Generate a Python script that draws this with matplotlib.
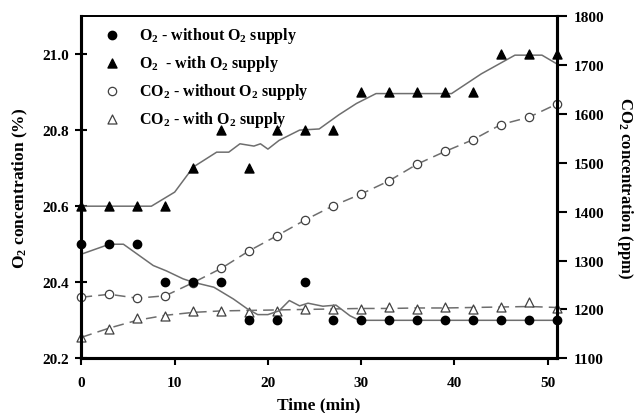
#!/usr/bin/env python3

# O2 / CO2 concentration over time, with and without O2 supply.

import matplotlib
matplotlib.use("Agg")
from matplotlib import pyplot as plt

plt.rcParams["font.family"] = ["Liberation Serif", "DejaVu Serif"]
plt.rcParams["font.weight"] = "bold"
plt.rcParams["mathtext.fontset"] = "custom"
plt.rcParams["mathtext.rm"] = "Liberation Serif:bold"
plt.rcParams["mathtext.default"] = "rm"

# sampling times (min)
time = [0, 3, 6, 9, 12, 15, 18, 21, 24, 27, 30, 33, 36, 39, 42, 45, 48, 51]

# measured points
o2_without = [20.5, 20.5, 20.5, 20.4, 20.4, 20.4, 20.3, 20.3, 20.4, 20.3,
              20.3, 20.3, 20.3, 20.3, 20.3, 20.3, 20.3, 20.3]
o2_with = [20.6, 20.6, 20.6, 20.6, 20.7, 20.8, 20.7, 20.8, 20.8, 20.8,
           20.9, 20.9, 20.9, 20.9, 20.9, 21.0, 21.0, 21.0]
co2_without = [1225, 1231, 1223, 1228, 1255, 1284, 1320, 1351, 1383, 1412,
               1436, 1463, 1497, 1523, 1547, 1578, 1593, 1620]
co2_with = [1143, 1160, 1182, 1187, 1197, 1197, 1195, 1197, 1201, 1201,
            1201, 1204, 1201, 1204, 1201, 1205, 1215, 1203]

# smoothed trend lines
o2_without_fit_t = [0, 3, 4.5, 7.7, 9.1, 10.9, 12, 14.2, 16.3, 17.8, 18.9, 20,
                    21.2, 22.3, 23.4, 24.3, 25.9, 27.3, 28.8, 29.8, 51]
o2_without_fit = [20.474, 20.5, 20.5, 20.444, 20.43, 20.409, 20.40, 20.387,
                  20.356, 20.33, 20.315, 20.315, 20.325, 20.352, 20.338,
                  20.345, 20.337, 20.34, 20.312, 20.30, 20.30]
o2_with_fit_t = [0, 7.5, 10, 12, 14.5, 15.8, 17, 18.5, 19.2, 20, 21.2, 23.4,
                 25.5, 27.6, 29.5, 31.6, 39.7, 42.9, 46.5, 49.4, 51]
o2_with_fit = [20.6, 20.6, 20.637, 20.703, 20.742, 20.742, 20.764, 20.758,
               20.764, 20.75, 20.773, 20.80, 20.803, 20.84, 20.87, 20.896,
               20.896, 20.948, 20.997, 20.997, 20.974]
co2_with_fit = [1143, 1162, 1178, 1188, 1194, 1197, 1198, 1199, 1200, 1201,
                1202, 1202, 1203, 1203, 1204, 1205, 1206, 1204]


fig = plt.figure(figsize=(6.39, 4.14), dpi=100)
ax1 = fig.add_axes([0.1275, 0.132, 0.744, 0.827])
ax2 = ax1.twinx()

linecol = "#6e6e6e"

ax1.plot(o2_without_fit_t, o2_without_fit, "-", color=linecol, lw=1.1, zorder=2)
ax1.plot(o2_with_fit_t, o2_with_fit, "-", color=linecol, lw=1.1, zorder=2)
ax2.plot(time, co2_without, "--", color=linecol, lw=1.1, dashes=(7, 4), zorder=2)
ax2.plot(time, co2_with_fit, "--", color=linecol, lw=1.1, dashes=(7, 4), zorder=2)

h1 = ax1.scatter(time, o2_without, marker="o", s=36, color="k", zorder=3,
                 clip_on=False, label=r"O$_2$ - without O$_2$ supply")
h2 = ax1.scatter(time, o2_with, marker="^", s=42, color="k", zorder=3,
                 clip_on=False, label=r"O$_2$  - with O$_2$ supply")
h3 = ax2.scatter(time, co2_without, marker="o", s=36, facecolor="white",
                 edgecolor="#404040", linewidth=0.9, zorder=3, clip_on=False,
                 label=r"CO$_2$ - without O$_2$ supply")
h4 = ax2.scatter(time, co2_with, marker="^", s=42, facecolor="white",
                 edgecolor="#404040", linewidth=0.9, zorder=3, clip_on=False,
                 label=r"CO$_2$ - with O$_2$ supply")

ax1.set_xlim(0, 51)
ax1.set_ylim(20.2, 21.1)
ax2.set_ylim(1100, 1800)
ax1.set_xticks([0, 10, 20, 30, 40, 50])
ax1.set_yticks([20.2, 20.4, 20.6, 20.8, 21.0])
ax2.set_yticks(range(1100, 1801, 100))

ax1.set_xlabel("Time (min)", fontsize=12.5, fontweight="bold", labelpad=5)
ax1.set_ylabel(r"O$_2$ concentration (%)", fontsize=12.5, fontweight="bold",
               labelpad=9)
ax2.set_ylabel(r"CO$_2$ concentration (ppm)", fontsize=12, fontweight="bold",
               rotation=270, va="bottom", labelpad=8)

ax1.tick_params(axis="x", direction="out", length=5, width=1.5, labelsize=11, pad=8)
ax1.tick_params(axis="y", direction="inout", length=8, width=1.5, labelsize=11, pad=5)
ax2.tick_params(axis="y", direction="out", length=7, width=1.5, labelsize=11, pad=5)

for ax in (ax1, ax2):
    for s in ax.spines.values():
        s.set_linewidth(1.3)
    ax.spines["left"].set_linewidth(2.2)
    ax.spines["right"].set_linewidth(2.2)
    ax.spines["bottom"].set_linewidth(2.2)
    for lab in ax.get_xticklabels() + ax.get_yticklabels():
        lab.set_fontweight("bold")

ax1.set_zorder(ax2.get_zorder() + 1)
ax1.patch.set_visible(False)

ax1.legend(handles=[h1, h2, h3, h4], loc="upper left", frameon=False,
           bbox_to_anchor=(0.0, 1.015), handletextpad=0.7,
           labelspacing=0.5, prop={"weight": "bold", "size": 11.5})

plt.savefig("out.png", dpi=100)
plt.close()
